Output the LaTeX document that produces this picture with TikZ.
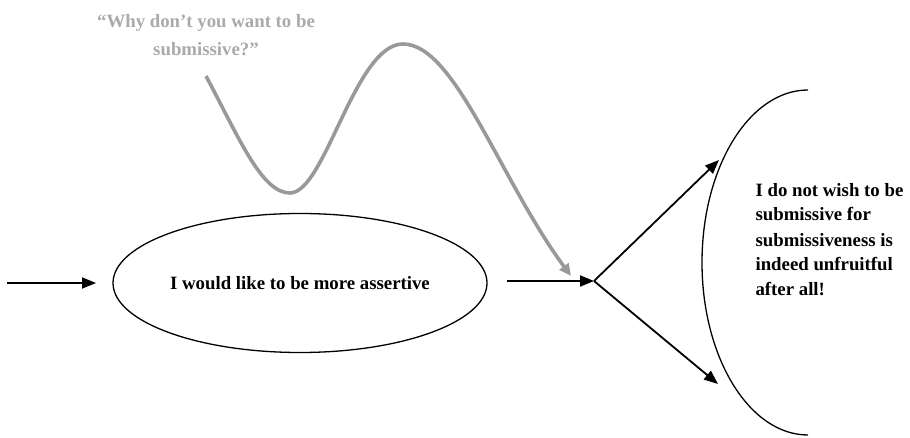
\documentclass[tikz,border=0pt]{standalone}
\usepackage{fontspec}
\setmainfont{Liberation Serif}
\usetikzlibrary{arrows.meta,shapes.geometric}
\definecolor{curvegray}{HTML}{999999}
\definecolor{textgray}{HTML}{AAAAAA}
\tikzset{
  blk/.style={line width=1.8pt,-{Triangle[length=14pt,width=11pt]}},
  gry/.style={line width=3.6pt,color=curvegray,-{Triangle[length=12pt,width=11pt]}},
  lbl/.style={font=\bfseries\fontsize{18.8}{25}\selectfont,align=left},
}
\begin{document}
\begin{tikzpicture}[x=1pt,y=-1pt]
\useasboundingbox (0,0) rectangle (910,438);
\node[ellipse,draw,line width=1.3pt,minimum width=374pt,minimum height=139pt] (e) at (300,283) {};
\node[lbl] (et) at (300,283) {I would like to be more assertive};
\coordinate (s) at (7,283);
\coordinate (sE) at (96,283);
\draw[blk] (s) -- (sE);
\coordinate (a) at (507,281);
\coordinate (j) at (594,281);
\draw[blk] (a) -- (j);
\coordinate (up) at (719,160);
\coordinate (dn) at (718,384);
\draw[blk] (j) -- (up);
\draw[blk] (j) -- (dn);
\coordinate (arcT) at (808,90);
\draw[line width=1.3pt] (arcT) arc[start angle=270,end angle=90,x radius=106,y radius=172.5];
\node[lbl,anchor=base west] (rt) at (752,296) {I do not wish to be\\submissive for\\submissiveness is\\indeed unfruitful\\after all!};
\node[font=\bfseries\fontsize{18.8}{28}\selectfont,text=textgray,align=center,anchor=base] (q) at (206,56) {“Why don’t you want to be\\submissive?”};
\coordinate (c0) at (206,76);
\coordinate (c1) at (290,193);
\coordinate (c2) at (403,44);
\coordinate (c3) at (571,276);
\draw[gry] (c0) .. controls (240,140) and (262,193) .. (c1) .. controls (325,193) and (355,44) .. (c2) .. controls (455,44) and (500,180) .. (c3);
\end{tikzpicture}
\end{document}
